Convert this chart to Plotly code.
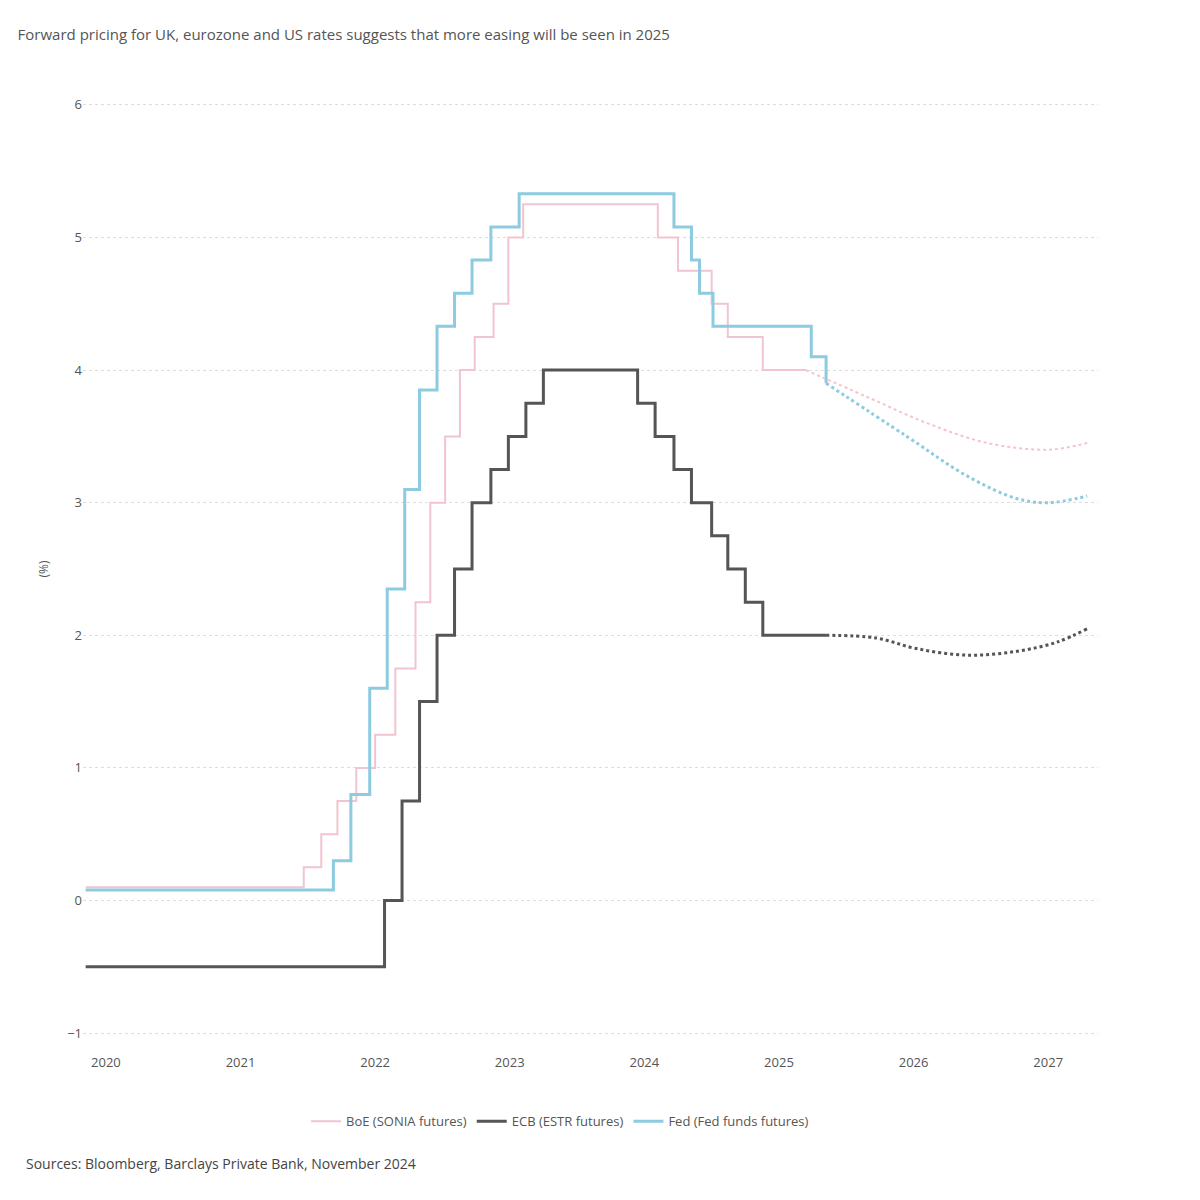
import plotly.graph_objects as go

# decimal-year x positions, rates in %
boe_x = [2019.85, 2021.47, 2021.6, 2021.72, 2021.86, 2022.0, 2022.15, 2022.3, 2022.41, 2022.52, 2022.63, 2022.74, 2022.88, 2022.99, 2023.1, 2024.1, 2024.25, 2024.5, 2024.62, 2024.88, 2025.2]
boe_y = [0.1, 0.25, 0.5, 0.75, 1.0, 1.25, 1.75, 2.25, 3.0, 3.5, 4.0, 4.25, 4.5, 5.0, 5.25, 5.0, 4.75, 4.5, 4.25, 4.0, 4.0]
boe_fx = [2025.2, 2025.65, 2026.1, 2026.55, 2027.0, 2027.29]
boe_fy = [4.0, 3.8, 3.6, 3.45, 3.4, 3.45]

ecb_x = [2019.85, 2022.07, 2022.2, 2022.33, 2022.46, 2022.59, 2022.72, 2022.86, 2022.99, 2023.12, 2023.25, 2023.95, 2024.08, 2024.22, 2024.35, 2024.5, 2024.62, 2024.75, 2024.88, 2024.98, 2025.35]
ecb_y = [-0.5, 0.0, 0.75, 1.5, 2.0, 2.5, 3.0, 3.25, 3.5, 3.75, 4.0, 3.75, 3.5, 3.25, 3.0, 2.75, 2.5, 2.25, 2.0, 2.0, 2.0]
ecb_fx = [2025.35, 2025.72, 2026.02, 2026.4, 2026.77, 2027.07, 2027.29]
ecb_fy = [2.0, 1.98, 1.9, 1.85, 1.88, 1.95, 2.05]

fed_x = [2019.85, 2021.69, 2021.82, 2021.96, 2022.09, 2022.22, 2022.33, 2022.46, 2022.59, 2022.72, 2022.86, 2023.07, 2024.22, 2024.35, 2024.41, 2024.51, 2025.24, 2025.35]
fed_y = [0.08, 0.3, 0.8, 1.6, 2.35, 3.1, 3.85, 4.33, 4.58, 4.83, 5.08, 5.33, 5.08, 4.83, 4.58, 4.33, 4.1, 3.9]
fed_fx = [2025.35, 2025.95, 2026.4, 2026.77, 2027.0, 2027.29]
fed_fy = [3.9, 3.5, 3.2, 3.03, 3.0, 3.05]

years = [2020, 2021, 2022, 2023, 2024, 2025, 2026, 2027]

BOE_C = "#f2c4cf"
ECB_C = "#555555"
FED_C = "#8ccbe0"

fig = go.Figure()
fig.add_trace(go.Scatter(x=boe_x, y=boe_y, mode="lines", line=dict(color=BOE_C, width=2, shape="hv"), name="BoE (SONIA futures)"))
fig.add_trace(go.Scatter(x=ecb_x, y=ecb_y, mode="lines", line=dict(color=ECB_C, width=3, shape="hv"), name="ECB (ESTR futures)"))
fig.add_trace(go.Scatter(x=fed_x, y=fed_y, mode="lines", line=dict(color=FED_C, width=3, shape="hv"), name="Fed (Fed funds futures)"))
fig.add_trace(go.Scatter(x=boe_fx, y=boe_fy, mode="lines", line=dict(color=BOE_C, width=2, dash="dot", shape="spline"), showlegend=False))
fig.add_trace(go.Scatter(x=ecb_fx, y=ecb_fy, mode="lines", line=dict(color=ECB_C, width=3, dash="dot", shape="spline"), showlegend=False))
fig.add_trace(go.Scatter(x=fed_fx, y=fed_fy, mode="lines", line=dict(color=FED_C, width=3, dash="dot", shape="spline"), showlegend=False))

fig.update_layout(
    width=1200, height=1200,
    paper_bgcolor="white", plot_bgcolor="white",
    font=dict(family="Open Sans, Arial, sans-serif", color="#555555", size=13),
    title=dict(text="Forward pricing for UK, eurozone and US rates suggests that more easing will be seen in 2025",
               x=0.008, xanchor="left", y=0.982, font=dict(size=15, color="#555555")),
    margin=dict(l=75, r=110, t=77, b=155),
    legend=dict(orientation="h", x=0.47, xanchor="center", y=-0.055, yanchor="top", font=dict(size=13)),
    annotations=[dict(text="Sources: Bloomberg, Barclays Private Bank, November 2024", xref="paper", yref="paper",
                      x=-0.058, y=-0.102, xanchor="left", yanchor="top", showarrow=False, font=dict(size=14, color="#444444"))],
)
fig.update_xaxes(range=[2019.83, 2027.37], tickvals=years, ticktext=[str(y) for y in years],
                 showgrid=False, zeroline=False, showline=False, ticks="", tickfont=dict(size=13))
fig.update_yaxes(range=[-1.15, 6.15], dtick=1, title=dict(text="(%)", font=dict(size=12)),
                 showgrid=True, gridcolor="#dddddd", griddash="dot", zeroline=False, ticks="", tickfont=dict(size=13))

fig.write_html("out.html")
